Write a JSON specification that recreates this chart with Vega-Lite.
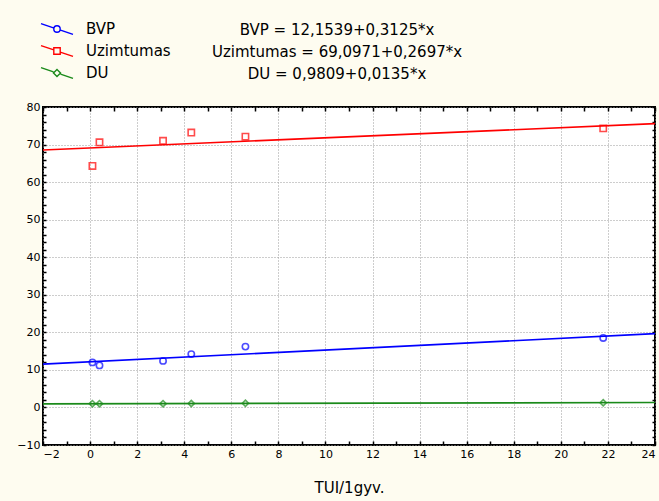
{
  "$schema": "https://vega.github.io/schema/vega-lite/v6.json",
  "width": 612,
  "height": 338,
  "autosize": {"type": "none"},
  "padding": {"left": 43, "top": 107, "right": 4, "bottom": 56},
  "background": "#FEFCF0",
  "view": {"fill": "white", "stroke": "black", "strokeWidth": 2},
  "config": {
    "font": "DejaVu Sans",
    "axis": {"labelFont": "DejaVu Sans", "labelFontSize": 11, "labelColor": "black", "titleColor": "black", "domainColor": "black", "tickColor": "black"}
  },
  "title": {
    "text": ["BVP = 12,1539+0,3125*x", "Uzimtumas = 69,0971+0,2697*x", "DU = 0,9809+0,0135*x"],
    "anchor": "middle",
    "frame": "group",
    "dx": -12,
    "dy": 62,
    "font": "DejaVu Sans",
    "fontSize": 15,
    "fontWeight": "normal",
    "lineHeight": 22,
    "offset": 0,
    "color": "black"
  },
  "datasets": {
    "pts": [
      {"series": "BVP", "x": 0.1, "y": 12.0},
      {"series": "BVP", "x": 0.4, "y": 11.2},
      {"series": "BVP", "x": 3.1, "y": 12.4},
      {"series": "BVP", "x": 4.3, "y": 14.2},
      {"series": "BVP", "x": 6.6, "y": 16.2},
      {"series": "BVP", "x": 21.8, "y": 18.5},
      {"series": "Uzimtumas", "x": 0.1, "y": 64.3},
      {"series": "Uzimtumas", "x": 0.4, "y": 70.6},
      {"series": "Uzimtumas", "x": 3.1, "y": 71.0},
      {"series": "Uzimtumas", "x": 4.3, "y": 73.2},
      {"series": "Uzimtumas", "x": 6.6, "y": 72.1},
      {"series": "Uzimtumas", "x": 21.8, "y": 74.3},
      {"series": "DU", "x": 0.1, "y": 1.0},
      {"series": "DU", "x": 0.4, "y": 1.0},
      {"series": "DU", "x": 3.1, "y": 1.0},
      {"series": "DU", "x": 4.3, "y": 1.05},
      {"series": "DU", "x": 6.6, "y": 1.1},
      {"series": "DU", "x": 21.8, "y": 1.25}
    ],
    "fit": [
      {"series": "BVP", "x": -2, "y": 11.529},
      {"series": "BVP", "x": 24, "y": 19.654},
      {"series": "Uzimtumas", "x": -2, "y": 68.558},
      {"series": "Uzimtumas", "x": 24, "y": 75.570},
      {"series": "DU", "x": -2, "y": 0.954},
      {"series": "DU", "x": 24, "y": 1.305}
    ]
  },
  "resolve": {"axis": {"x": "independent", "y": "independent"}},
  "layer": [
    {
      "data": {"name": "fit"},
      "mark": {"type": "line", "strokeWidth": 1.6, "clip": true},
      "encoding": {
        "x": {
          "field": "x", "type": "quantitative",
          "scale": {"domain": [-2, 24], "nice": false, "zero": false},
          "axis": {
            "orient": "bottom",
            "values": [-2,-1,0,1,2,3,4,5,6,7,8,9,10,11,12,13,14,15,16,17,18,19,20,21,22,23,24],
            "labelExpr": "datum.value % 2 != 0 ? '' : datum.label",
            "grid": true,
            "gridDash": [1, 2],
            "gridColor": "#9a9a9a",
            "gridOpacity": {"condition": {"test": "datum.value % 2 != 0", "value": 0}, "value": 1},
            "offset": -4,
            "tickSize": 4,
            "tickWidth": 1.5,
            "labelPadding": 3,
            "domain": false,
            "title": "TUI/1gyv.",
            "titleFont": "DejaVu Sans",
            "titleFontSize": 15,
            "titleFontWeight": "normal",
            "titlePadding": 21
          }
        },
        "y": {
          "field": "y", "type": "quantitative",
          "scale": {"domain": [-10, 80], "nice": false, "zero": false},
          "axis": {
            "orient": "left",
            "values": [-10,-8,-6,-4,-2,0,2,4,6,8,10,12,14,16,18,20,22,24,26,28,30,32,34,36,38,40,42,44,46,48,50,52,54,56,58,60,62,64,66,68,70,72,74,76,78,80],
            "labelExpr": "datum.value % 10 != 0 ? '' : datum.label",
            "grid": true,
            "gridDash": [1, 2],
            "gridColor": "#9a9a9a",
            "gridOpacity": {"condition": {"test": "datum.value % 10 != 0", "value": 0}, "value": 1},
            "offset": -3,
            "tickSize": 3,
            "tickWidth": 1.5,
            "labelPadding": 3,
            "domain": false,
            "title": null
          }
        },
        "color": {
          "field": "series", "type": "nominal",
          "scale": {"domain": ["BVP", "Uzimtumas", "DU"], "range": ["#0000FF", "#FF0000", "#1A8A1A"]},
          "legend": {
            "orient": "none",
            "legendX": 5,
            "legendY": -87,
            "title": null,
            "symbolSize": 256,
            "symbolStrokeWidth": 1.4,
            "symbolFillColor": "transparent",
            "rowPadding": 4,
            "labelOffset": 20,
            "labelFontSize": 15,
            "labelFont": "DejaVu Sans",
            "labelColor": "black",
            "encode": {
              "symbols": {
                "update": {
                  "shape": {"signal": "datum.value === 'BVP' ? 'M-2,-0.68L-0.44,-0.14M0.44,0.14L2,0.68M0.4,0A0.4,0.4,0,1,1,-0.4,0A0.4,0.4,0,1,1,0.4,0Z' : datum.value === 'Uzimtumas' ? 'M-2,-0.68L-0.4,-0.136M0.4,0.136L2,0.68M-0.4,-0.4H0.4V0.4H-0.4Z' : 'M-2,-0.68L-0.44,-0.15M0.44,0.15L2,0.68M0,-0.44L0.44,0L0,0.44L-0.44,0Z'"},
                  "fill": {"value": "transparent"},
                  "strokeWidth": {"value": 1.4}
                }
              }
            }
          }
        },
        "detail": {"field": "series"}
      }
    },
    {
      "data": {"name": "pts"},
      "transform": [{"filter": "datum.series === 'BVP'"}],
      "mark": {"type": "point", "shape": "circle", "filled": false, "strokeWidth": 1.6, "size": 40},
      "encoding": {
        "x": {
          "field": "x", "type": "quantitative",
          "axis": {
            "orient": "top",
            "values": [-2,-1,0,1,2,3,4,5,6,7,8,9,10,11,12,13,14,15,16,17,18,19,20,21,22,23,24],
            "labels": false,
            "grid": false,
            "offset": -4,
            "tickSize": 4,
            "tickWidth": 1.5,
            "domain": false,
            "title": null
          }
        },
        "y": {
          "field": "y", "type": "quantitative",
          "axis": {
            "orient": "right",
            "values": [-10,-8,-6,-4,-2,0,2,4,6,8,10,12,14,16,18,20,22,24,26,28,30,32,34,36,38,40,42,44,46,48,50,52,54,56,58,60,62,64,66,68,70,72,74,76,78,80],
            "labels": false,
            "grid": false,
            "offset": -3,
            "tickSize": 3,
            "tickWidth": 1.5,
            "domain": false,
            "title": null
          }
        },
        "color": {"field": "series", "type": "nominal"}
      }
    },
    {
      "data": {"name": "pts"},
      "transform": [{"filter": "datum.series === 'Uzimtumas'"}],
      "mark": {"type": "point", "shape": "square", "filled": false, "strokeWidth": 1.6, "size": 40},
      "encoding": {
        "x": {"field": "x", "type": "quantitative", "axis": null},
        "y": {"field": "y", "type": "quantitative", "axis": null},
        "color": {"field": "series", "type": "nominal"}
      }
    },
    {
      "data": {"name": "pts"},
      "transform": [{"filter": "datum.series === 'DU'"}],
      "mark": {"type": "point", "shape": "diamond", "filled": false, "strokeWidth": 1.6, "size": 40},
      "encoding": {
        "x": {"field": "x", "type": "quantitative", "axis": null},
        "y": {"field": "y", "type": "quantitative", "axis": null},
        "color": {"field": "series", "type": "nominal"}
      }
    }
  ]
}
